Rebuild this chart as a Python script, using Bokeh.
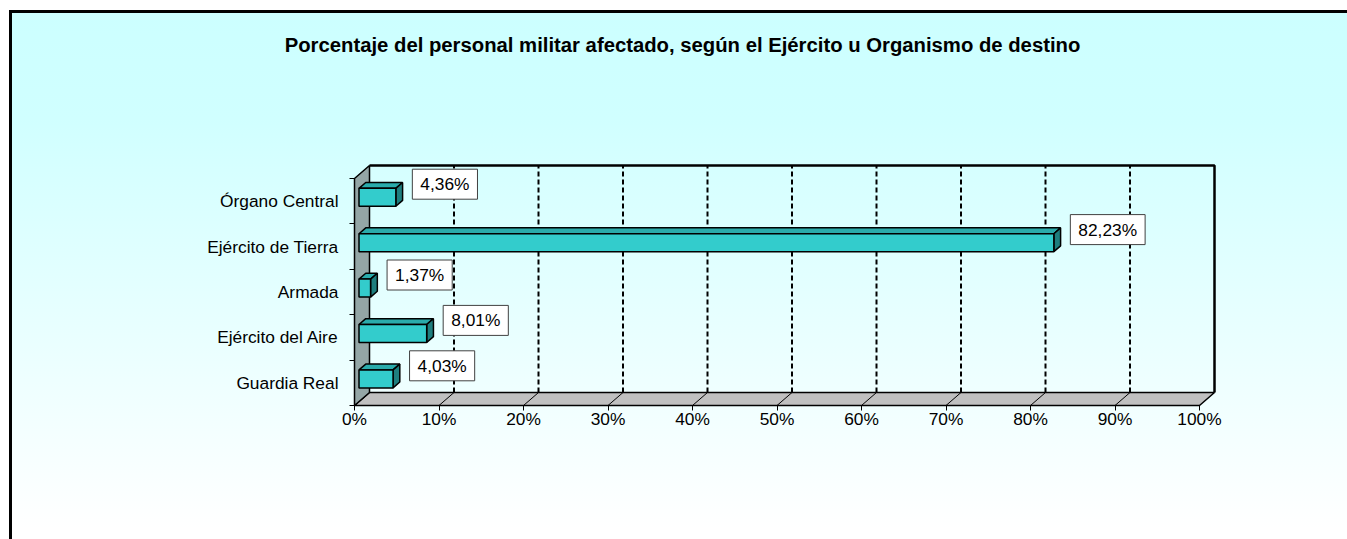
from bokeh.plotting import figure
from bokeh.models import Range1d, FixedTicker, PrintfTickFormatter, Label
from bokeh.embed import file_html
from bokeh.resources import INLINE

# ---------------- data ----------------
categories = ["Órgano Central", "Ejército de Tierra", "Armada", "Ejército del Aire", "Guardia Real"]
values = [4.36, 82.23, 1.37, 8.01, 4.03]
value_labels = ["4,36%", "82,23%", "1,37%", "8,01%", "4,03%"]
x_ticks = [0, 10, 20, 30, 40, 50, 60, 70, 80, 90, 100]
title_text = "Porcentaje del personal militar afectado, según el Ejército u Organismo de destino"

# ---------------- geometry (pixel scale of the 3D box) ----------------
W, H = 1347, 539
X0, Y0 = 354, 405   # page position of 0% / bottom of category axis
PX_X = 8.45     # px per percent
PX_Y = 45.4     # px per category band
DX = 15 / PX_X  # depth offset in x (data units)
DY = 13 / PX_Y  # depth offset in y (data units)
n = len(categories)
F_FRONT, F_BACK = 0.3, 0.75   # bar depth position (fraction of box depth)
BH = 0.198                     # half bar thickness (category units)

FONT = "Liberation Sans"

p = figure(width=W, height=H, output_backend="svg", toolbar_location=None,
           x_range=Range1d(-X0 / PX_X, (W - X0) / PX_X),
           y_range=Range1d(-(H - Y0) / PX_Y, Y0 / PX_Y),
           min_border=0, min_border_left=0, min_border_right=0,
           min_border_top=0, min_border_bottom=0,
           background_fill_color=None, border_fill_color=None,
           outline_line_color=None)

p.styles = {
    "background": "linear-gradient(#000,#000) 9px 10px / 3px 100% no-repeat, "
                  "linear-gradient(#000,#000) 9px 10px / 100% 3px no-repeat, "
                  "linear-gradient(#CCFFFF 0%, #D0FFFF 20%, #FFFFFF 96%) 9px 10px / 100% 540px no-repeat, #FFFFFF"
}

# ---------------- 3D box: floor, side wall, back wall ----------------
inner = x_ticks[1:-1]
p.patch([0, DX, x_ticks[-1] + DX, x_ticks[-1]], [0, DY, DY, 0],
        fill_color="#C0C0C0", line_color="black", line_width=1.5)
p.segment(x0=inner, y0=[0] * len(inner), x1=[t + DX for t in inner], y1=[DY] * len(inner),
          line_color="black", line_width=1)
p.segment(x0=[t + DX for t in inner], y0=[DY] * len(inner),
          x1=[t + DX for t in inner], y1=[n + DY] * len(inner),
          line_color="black", line_width=2, line_dash="5 3")
p.patch([0, 0, DX, DX], [0, n, n + DY, DY],
        fill_color="#94A6A6", line_color="black", line_width=1.5)
p.line([DX, x_ticks[-1] + DX, x_ticks[-1] + DX], [n + DY, n + DY, DY],
       line_color="black", line_width=2.5)

# ---------------- bars ----------------
yc = [n - j - 0.5 for j in range(n)]
top_xs, top_ys, side_xs, side_ys = [], [], [], []
for v, c in zip(values, yc):
    t, b = c + BH, c - BH
    top_xs.append([F_FRONT * DX, v + F_FRONT * DX, v + F_BACK * DX, F_BACK * DX])
    top_ys.append([t + F_FRONT * DY, t + F_FRONT * DY, t + F_BACK * DY, t + F_BACK * DY])
    side_xs.append([v + F_FRONT * DX, v + F_FRONT * DX, v + F_BACK * DX, v + F_BACK * DX])
    side_ys.append([b + F_FRONT * DY, t + F_FRONT * DY, t + F_BACK * DY, b + F_BACK * DY])

p.patches(top_xs, top_ys, fill_color="#2AABAB", line_color="black", line_width=1.5)
p.patches(side_xs, side_ys, fill_color="#1E7E7E", line_color="black", line_width=1.5)
p.quad(left=[F_FRONT * DX] * n, right=[v + F_FRONT * DX for v in values],
       bottom=[c - BH + F_FRONT * DY for c in yc], top=[c + BH + F_FRONT * DY for c in yc],
       fill_color="#33CCCC", line_color="black", line_width=1.5)

# ---------------- value labels ----------------
for v, c, lab in zip(values, yc, value_labels):
    p.add_layout(Label(x=v, y=c, x_offset=21, y_offset=17, text=lab,
                       text_align="left", text_baseline="middle",
                       text_font=FONT, text_font_size="13pt", text_color="black",
                       background_fill_color="white", border_line_color="#404040",
                       border_line_width=1,
                       padding=dict(left=8, right=8, top=5, bottom=5)))

# ---------------- title ----------------
p.add_layout(Label(x=(682 - X0) / PX_X, y=(Y0 - 44) / PX_Y, text=title_text,
                   text_align="center", text_baseline="middle",
                   text_font=FONT, text_font_size="20.3px", text_font_style="bold",
                   text_color="black"))

# ---------------- axes ----------------
p.grid.visible = False

xa = p.xaxis[0]
xa.fixed_location = 0
xa.ticker = FixedTicker(ticks=x_ticks)
xa.formatter = PrintfTickFormatter(format="%d%%")
xa.axis_line_color = None
xa.major_tick_in = 0
xa.major_tick_out = 5
xa.major_tick_line_color = "black"
xa.minor_tick_in = 0
xa.minor_tick_out = 0
xa.major_label_standoff = -2
xa.major_label_text_font = FONT
xa.major_label_text_font_size = "13pt"
xa.major_label_text_color = "black"

ya = p.yaxis[0]
ya.fixed_location = 0
ya.ticker = FixedTicker(ticks=yc, minor_ticks=list(range(n + 1)))
ya.major_label_overrides = {c: cat for c, cat in zip(yc, categories)}
ya.axis_line_color = None
ya.major_tick_in = 0
ya.major_tick_out = 0
ya.minor_tick_in = 0
ya.minor_tick_out = 5
ya.minor_tick_line_color = "black"
ya.major_label_standoff = 11
ya.major_label_text_font = FONT
ya.major_label_text_font_size = "13pt"
ya.major_label_text_color = "black"

open("out.html", "w").write(file_html(p, INLINE))
